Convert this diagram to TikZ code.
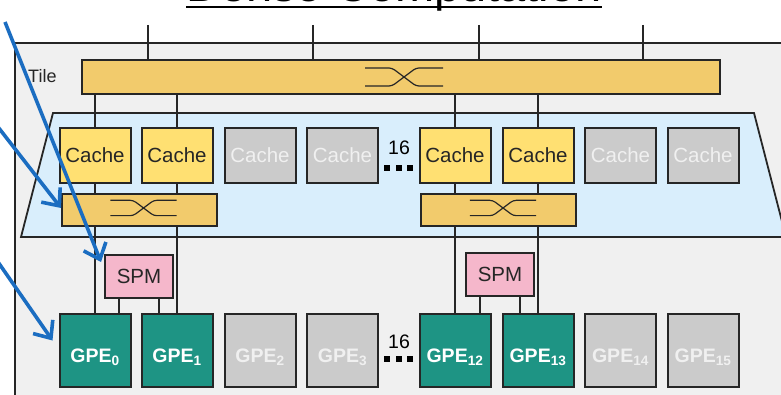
\documentclass[tikz,border=0pt]{standalone}
\usepackage{fontspec}
\setmainfont{Liberation Sans}
\usetikzlibrary{arrows.meta}
\definecolor{tilebg}{HTML}{F0F0F0}
\definecolor{clusterbg}{HTML}{D9EEFC}
\definecolor{busc}{HTML}{F2CB6C}
\definecolor{cachec}{HTML}{FFE072}
\definecolor{offc}{HTML}{CBCBCB}
\definecolor{spmc}{HTML}{F5B7CB}
\definecolor{gpec}{HTML}{1E9484}
\definecolor{arrowc}{HTML}{1B6DC1}
\definecolor{inkc}{HTML}{262626}

\tikzset{
  unit/.style={draw=inkc, line width=2pt, minimum width=71pt, inner sep=0pt,
    font=\fontsize{20.5}{20.5}\selectfont},
  cacheon/.style={unit, fill=cachec, minimum height=55pt, text=inkc},
  cacheoff/.style={unit, fill=offc, minimum height=55pt, text=tilebg},
  gpeon/.style={unit, fill=gpec, minimum height=73pt, text=white,
    text height=27pt, text depth=4pt, font=\fontsize{19.5}{19.5}\selectfont\bfseries},
  gpeoff/.style={gpeon, fill=offc, text=tilebg},
  spmbox/.style={unit, fill=spmc, minimum width=68pt, minimum height=43pt, text=inkc},
  xbarbox/.style={draw=inkc, line width=2pt, fill=busc, inner sep=0pt},
  wire/.style={inkc, line width=1.8pt},
  pointer/.style={arrowc, line width=3.6pt, -{Straight Barb[length=14pt,width=24pt]}},
  xsym/.pic={
    \draw[inkc, line width=1.2pt, rounded corners=3pt]
      (-39,-9) -- (-12,-9) -- (12,9) -- (39,9)
      (-39,9) -- (-12,9) -- (12,-9) -- (39,-9);
  }
}

\begin{document}
\begin{tikzpicture}[x=1pt, y=-1pt]
  \useasboundingbox (0,0) rectangle (781,395);

  \fill[tilebg] (15,43) rectangle (790,400);
  \draw[wire] (15,400) -- (15,43) -- (790,43);
  \node[anchor=base, inner sep=0pt, font=\fontsize{47}{47}\selectfont] (title) at (394,2) {Dense Computation};
  \draw[line width=2pt] ([yshift=-5pt]title.base west) -- ([yshift=-5pt]title.base east);
  \node[anchor=west, inner sep=0pt, text=inkc, font=\fontsize{18}{18}\selectfont] (tile) at (28,76) {Tile};

  % cluster
  \filldraw[fill=clusterbg, draw=inkc, line width=1.8pt]
    (21,237) -- (53,113) -- (754,113) -- (786,237) -- cycle;

  % interconnects
  \node[xbarbox, minimum width=638pt, minimum height=34pt] (bus) at (401,77) {};
  \pic at ([xshift=3pt]bus.center) {xsym};
  \node[xbarbox, minimum width=155pt, minimum height=32pt] (xbarA) at (139.5,210) {};
  \node[xbarbox, minimum width=155pt, minimum height=32pt] (xbarB) at (498,210) {};
  \pic[scale=0.85] at ([xshift=4pt,yshift=2pt]xbarA.center) {xsym};
  \pic[scale=0.85] at ([xshift=5pt,yshift=2pt]xbarB.center) {xsym};

  \foreach \x/\i/\s in {95/0/on, 177/1/on, 260/2/off, 342.5/3/off,
                        455/12/on, 538/13/on, 620.5/14/off, 703/15/off} {
    \node[cache\s] (cache\i) at (\x,155.5) {Cache};
    \node[gpe\s] (gpe\i) at (\x,350.5) {GPE\textsubscript{\i}};
  }

  \node[spmbox] (spmA) at (139,276.5) {SPM};
  \node[spmbox] (spmB) at (500,274.5) {SPM};

  \foreach \x [count=\k] in {148,313,479,643} {
    \coordinate (up\k) at (\x,25);
    \draw[wire] (up\k) -- (up\k |- bus.north);
  }
  \foreach \i/\b in {0/A, 1/A, 12/B, 13/B} {
    \draw[wire] (cache\i.north) -- (cache\i.north |- bus.south);
    \draw[wire] (cache\i.south) -- (cache\i.south |- xbar\b.north);
    \draw[wire] (gpe\i.north) -- (gpe\i.north |- xbar\b.south);
  }
  \foreach \b/\l/\r in {A/0/1, B/12/13} {
    \draw[wire] ([xshift=-20pt]spm\b.south) -- ([xshift=-20pt]spm\b.south |- gpe\l.north);
    \draw[wire] ([xshift=20pt]spm\b.south) -- ([xshift=20pt]spm\b.south |- gpe\r.north);
  }

  % sixteen per row
  \foreach \y/\d/\n in {148/168/top, 342/358.5/bot} {
    \node[inner sep=0pt, font=\fontsize{19.5}{19.5}\selectfont] (count\n) at (399,\y) {16};
    \foreach \dx in {-11.5,0,11.5}
      \fill (398.5+\dx-3,\d-3) rectangle ++(6,6);
  }

  \coordinate (fromspm) at (5,22);
  \coordinate (fromxbar) at (-2,127);
  \coordinate (fromgpe) at (-2,262);
  \draw[pointer] (fromspm) -- ([xshift=-3pt,yshift=-8pt]spmA.north west);
  \draw[pointer] (fromxbar) -- ([yshift=2pt]xbarA.west);
  \draw[pointer] (fromgpe) -- ([xshift=-6pt,yshift=10pt]gpe0.west);
\end{tikzpicture}
\end{document}
